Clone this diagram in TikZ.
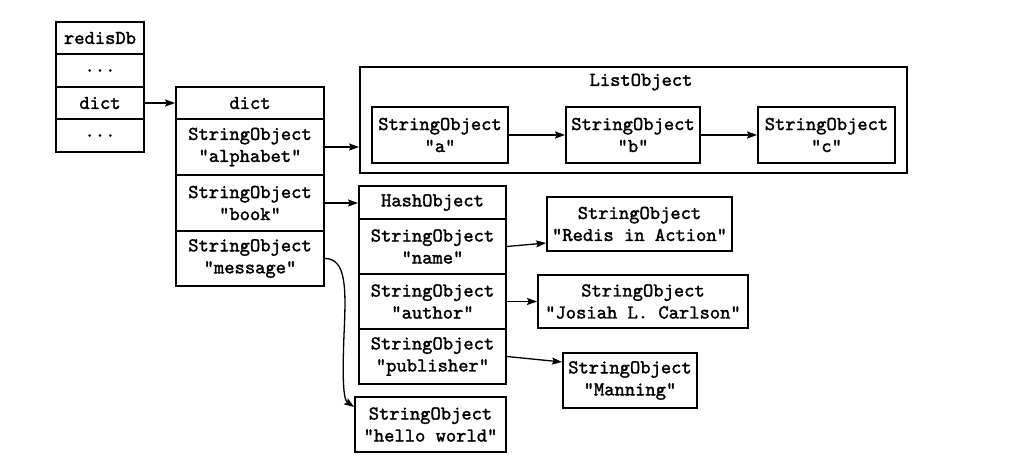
\documentclass[tikz,border=0pt]{standalone}
\usepackage{fontspec}
\newfontfamily\cour{lmmono10-regular}[Extension=.otf, FakeBold=1.6]
\usetikzlibrary{arrows.meta,calc}
\tikzset{
  cell/.style={draw, line width=1.8pt, inner sep=0pt, align=center,
    font=\cour\fontsize{19.6}{22}\selectfont},
  lbl/.style={inner sep=0pt, font=\cour\fontsize{19.6}{22}\selectfont},
  arr/.style={line width=1.3pt, -{Stealth[length=10pt,width=7pt,inset=1.5pt]}}
}
\begin{document}
\begin{tikzpicture}[x=1pt,y=-1pt]
\useasboundingbox (0,0) rectangle (1022,470);
% redisDb
\node[cell, minimum width=88pt, minimum height=32.5pt] (r0) at (100,38) {redisDb};
\node[cell, minimum width=88pt, minimum height=32.5pt] (r1) at (100,70.5) {...};
\node[cell, minimum width=88pt, minimum height=32.5pt] (r2) at (100,103) {dict};
\node[cell, minimum width=88pt, minimum height=32.5pt] (r3) at (100,135.5) {...};
% dict
\node[cell, minimum width=148pt, minimum height=32pt] (d0) at (250,103) {dict};
\node[cell, minimum width=148pt, minimum height=56pt] (d1) at (250,147) {StringObject\\"alphabet"};
\node[cell, minimum width=148pt, minimum height=56pt] (d2) at (250,203) {StringObject\\"book"};
\node[cell, minimum width=148pt, minimum height=55pt] (d3) at (250,258.5) {StringObject\\"message"};
% ListObject
\node[cell, minimum width=547pt, minimum height=106pt] (list) at (633.5,120) {};
\node[lbl] (listt) at (641,82) {ListObject};
\node[cell, minimum width=136pt, minimum height=56pt] (la) at (440,135) {StringObject\\"a"};
\node[cell, minimum width=134pt, minimum height=56pt] (lb) at (633,135) {StringObject\\"b"};
\node[cell, minimum width=137pt, minimum height=56pt] (lc) at (826.5,135) {StringObject\\"c"};
% HashObject
\node[cell, minimum width=147pt, minimum height=33pt] (h0) at (432.5,202.5) {HashObject};
\node[cell, minimum width=147pt, minimum height=55pt] (h1) at (432.5,246.5) {StringObject\\"name"};
\node[cell, minimum width=147pt, minimum height=55pt] (h2) at (432.5,301.5) {StringObject\\"author"};
\node[cell, minimum width=147pt, minimum height=55pt] (h3) at (432.5,356.5) {StringObject\\"publisher"};
% values
\node[cell, minimum width=185pt, minimum height=54pt] (vr) at (639.5,224) {StringObject\\"Redis in Action"};
\node[cell, minimum width=210pt, minimum height=53pt] (vj) at (643,301.5) {StringObject\\"Josiah L. Carlson"};
\node[cell, minimum width=134pt, minimum height=55pt] (vm) at (630,380.5) {StringObject\\"Manning"};
\node[cell, minimum width=151pt, minimum height=55pt] (vh) at (430.5,424.5) {StringObject\\"hello world"};
% arrows
\draw[arr] (r2.east) -- (d0.west);
\draw[arr] (d1.east) -- (d1.east -| list.west);
\draw[arr] (d2.east) -- (d2.east -| h0.west);
\draw[arr] (la.east) -- (lb.west);
\draw[arr] (lb.east) -- (lc.west);
\draw[arr] (h1.east) -- ($(vr.west)+(0,19)$);
\draw[arr] (h2.east) -- (vj.west);
\draw[arr] (h3.east) -- ($(vm.west)+(0,-18.5)$);
\draw[arr] (d3.east) .. controls +(22,0) and (346,290) .. (344,335)
  .. controls (342,385) and (344,400) .. ($(vh.west)+(0,-17.5)$);
\end{tikzpicture}
\end{document}
